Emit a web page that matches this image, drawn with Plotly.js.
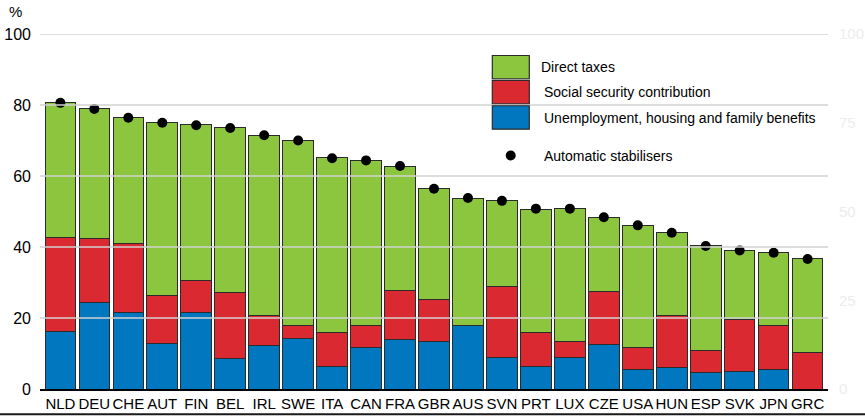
<!DOCTYPE html>
<html>
<head>
<meta charset="utf-8">
<script src="https://cdn.plot.ly/plotly-3.0.1.min.js"></script>
<style>html,body{margin:0;padding:0;background:#fff;}#chart{width:865px;height:416px;}</style>
</head>
<body>
<div id="chart"></div>
<script>
var countries = ['NLD','DEU','CHE','AUT','FIN','BEL','IRL','SWE','ITA','CAN','FRA','GBR','AUS','SVN','PRT','LUX','CZE','USA','HUN','ESP','SVK','JPN','GRC'];
var benefits = [16.3,24.5,21.6,12.7,21.6,8.6,12.3,14.1,6.2,11.8,13.9,13.4,17.9,9.0,6.4,8.8,12.4,5.5,6.0,4.7,5.0,5.5,0];
var socialSecurity = [26.5,18.0,19.4,13.7,9.0,18.6,8.4,3.8,9.8,6.2,13.9,11.9,0,19.8,9.6,4.7,15.0,6.3,14.7,6.1,14.5,12.4,10.4];
var directTaxes = [38.0,36.6,35.5,48.6,43.8,46.5,50.7,52.1,49.3,46.4,35.0,31.1,35.9,24.2,34.6,37.3,21.0,34.3,23.3,29.5,19.4,20.5,26.4];
var stabilisers = [80.6,78.9,76.4,75.0,74.3,73.5,71.5,70.0,65.0,64.4,62.8,56.4,53.8,53.0,50.8,50.8,48.4,46.1,44.0,40.3,39.0,38.4,36.6];
var yTicks = [0,20,40,60,80,100];
var rightTicks = [0,25,50,75,100];
var legendNames = ['Direct taxes','Social security contribution','Unemployment, housing and family benefits','Automatic stabilisers'];

var GREEN = '#8cc63f', RED = '#da2930', BLUE = '#0077be';
var FONT = '"Liberation Sans Narrow", "Arial Narrow", Arial, sans-serif';
var outline = {color:'#2b2b2b', width:1};

var traces = [
  {type:'bar', x:countries, y:benefits, name:legendNames[2], marker:{color:BLUE, line:outline}, showlegend:false},
  {type:'bar', x:countries, y:socialSecurity, name:legendNames[1], marker:{color:RED, line:outline}, showlegend:false},
  {type:'bar', x:countries, y:directTaxes, name:legendNames[0], marker:{color:GREEN, line:outline}, showlegend:false},
  {type:'scatter', mode:'markers', x:countries, y:stabilisers, yaxis:'y2', name:legendNames[3], marker:{color:'#000', size:10}, showlegend:false, cliponaxis:false}
];

// gridlines drawn above bars
var shapes = [];
yTicks.filter(function(v){return v>0;}).forEach(function(v){
  shapes.push({type:'line', xref:'paper', yref:'y', x0:0, x1:1, y0:v, y1:v, line:{color:'#d2d2d2', width:1.5}, layer:'above'});
});
// custom legend
function px2x(p){return (p-40)/788;}
function px2y(p){return (388.7-p)/355.2;}
var boxes = [[55,78.3,GREEN],[80,103.3,RED],[105.3,128.7,BLUE]];
boxes.forEach(function(b){
  shapes.push({type:'rect', xref:'paper', yref:'paper', x0:px2x(492.3), x1:px2x(529.3), y0:px2y(b[1]), y1:px2y(b[0]), fillcolor:b[2], line:{color:'#2b2b2b', width:1.2}, layer:'above'});
});
shapes.push({type:'circle', xref:'paper', yref:'paper', xsizemode:'pixel', ysizemode:'pixel', xanchor:px2x(510.7), yanchor:px2y(155), x0:-5, x1:5, y0:-5, y1:5, fillcolor:'#000', line:{width:0}});
// bottom frame line
shapes.push({type:'line', xref:'paper', yref:'paper', x0:px2x(0), x1:px2x(865), y0:px2y(414), y1:px2y(414), line:{color:'#1a1a1a', width:2}});

var textY = [66.7, 91.7, 117.3, 155.3];
var textX = [539, 542, 542, 542];
var annotations = legendNames.map(function(t,i){
  return {text:t, xref:'paper', yref:'paper', x:px2x(textX[i]), y:px2y(textY[i]), xanchor:'left', yanchor:'middle', showarrow:false, font:{family:FONT, size:14, color:'#000'}};
});
annotations.push({text:'%', xref:'paper', yref:'paper', x:px2x(7), y:px2y(11), xanchor:'left', yanchor:'middle', showarrow:false, font:{family:FONT, size:15, color:'#000'}});

var layout = {
  width:865, height:416,
  margin:{l:40, r:37, t:33.5, b:27.3},
  paper_bgcolor:'#fff', plot_bgcolor:'#fff',
  barmode:'stack', bargap:0.1,
  showlegend:false,
  font:{family:FONT, color:'#000'},
  xaxis:{type:'category', range:[-0.6, countries.length-0.4], autorange:false, showgrid:false, zeroline:false, showline:true, linecolor:'#000', linewidth:1.5, ticks:'', tickangle:0, tickfont:{family:FONT, size:15, color:'#000'}, layer:'above traces', fixedrange:true},
  yaxis:{range:[0,100], autorange:false, tickvals:yTicks, showgrid:false, zeroline:false, showline:false, ticks:'', ticklabelstandoff:8, tickfont:{family:FONT, size:16, color:'#000'}, fixedrange:true},
  yaxis2:{range:[0,100], autorange:false, overlaying:'y', side:'right', tickvals:rightTicks, showgrid:false, zeroline:false, showline:false, ticks:'', ticklabelstandoff:10, tickfont:{family:FONT, size:15, color:'#ededed'}, fixedrange:true},
  shapes:shapes,
  annotations:annotations
};

Plotly.newPlot('chart', traces, layout, {displayModeBar:false, staticPlot:true});
</script>
</body>
</html>
